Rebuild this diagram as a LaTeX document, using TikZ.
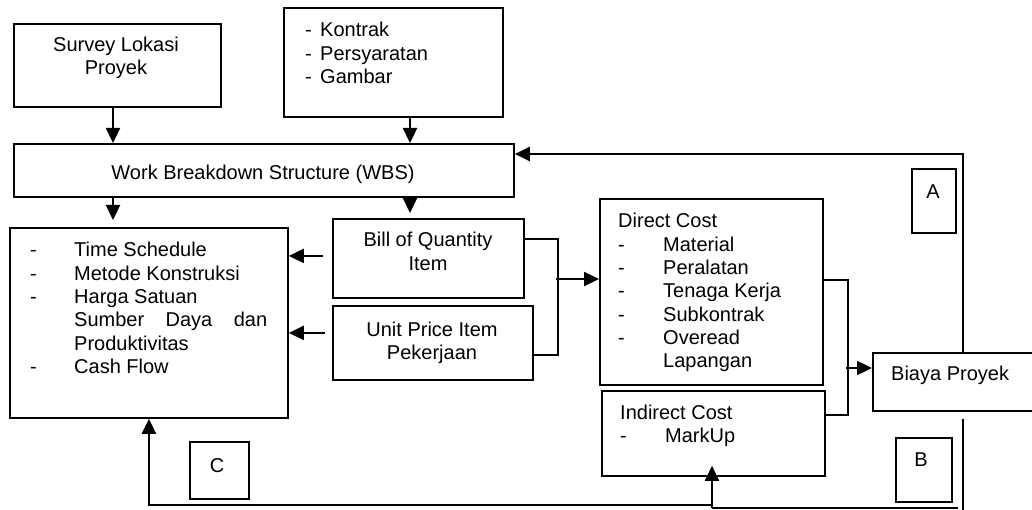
\documentclass[tikz,border=0pt]{standalone}
\usepackage{fontspec}
\setmainfont{Liberation Sans}
\usetikzlibrary{arrows.meta}
\begin{document}
\begin{tikzpicture}[x=1pt,y=-1pt,
  box/.style={draw,line width=1.8pt,inner sep=0pt,anchor=north west},
  txt/.style={anchor=base west,inner sep=0pt,font=\fontsize{20}{23.3}\selectfont},
  ctxt/.style={anchor=base,inner sep=0pt,font=\fontsize{20}{23.3}\selectfont},
  conn/.style={line width=2.3pt},
  arr/.style={line width=2.3pt,-{Triangle[length=15pt,width=14pt]}}]
\useasboundingbox (0,0) rectangle (1032,510);

% boxes
\node[box,minimum width=207pt,minimum height=83pt] (survey) at (13,23) {};
\node[box,minimum width=219pt,minimum height=109pt] (kontrak) at (283,7) {};
\node[box,minimum width=500pt,minimum height=53pt] (wbs) at (13,143) {};
\node[box,minimum width=278pt,minimum height=190pt] (ts) at (9,227) {};
\node[box,minimum width=191pt,minimum height=79pt] (boq) at (332,218) {};
\node[box,minimum width=200pt,minimum height=74pt] (up) at (332,305) {};
\node[box,minimum width=223pt,minimum height=186pt] (dc) at (599,198) {};
\node[box,minimum width=223pt,minimum height=85pt] (ic) at (601,390) {};
\node[box,minimum width=200pt,minimum height=58pt] (biaya) at (872,352) {};
\node[box,minimum width=44pt,minimum height=64pt] (boxA) at (911,168) {};
\node[box,minimum width=56pt,minimum height=64pt] (boxB) at (895,437) {};
\node[box,minimum width=59pt,minimum height=57pt] (boxC) at (189,441) {};

% texts
\node[ctxt] (t-sv1) at (116,52) {Survey Lokasi};
\node[ctxt] (t-sv2) at (116,75) {Proyek};

\node[txt] (t-k1d) at (305,37) {-};
\node[txt] (t-k1) at (320,37) {Kontrak};
\node[txt] (t-k2d) at (305,61) {-};
\node[txt] (t-k2) at (320,61) {Persyaratan};
\node[txt] (t-k3d) at (305,84) {-};
\node[txt] (t-k3) at (320,84) {Gambar};

\node[ctxt] (t-wbs) at (263,180) {Work Breakdown Structure (WBS)};

\node[txt] (t-ts1d) at (30,257) {-};
\node[txt] (t-ts1) at (74,257) {Time Schedule};
\node[txt] (t-ts2d) at (30,280.3) {-};
\node[txt] (t-ts2) at (74,280.3) {Metode Konstruksi};
\node[txt] (t-ts3d) at (30,303.6) {-};
\node[txt] (t-ts3) at (74,303.6) {Harga Satuan};
\node[txt] (t-ts4) at (74,326.9) {\makebox[193pt][s]{Sumber Daya dan}};
\node[txt] (t-ts5) at (74,350.2) {Produktivitas};
\node[txt] (t-ts6d) at (30,373.5) {-};
\node[txt] (t-ts6) at (74,373.5) {Cash Flow};

\node[ctxt] (t-boq1) at (428,247) {Bill of Quantity};
\node[ctxt] (t-boq2) at (428,270.3) {Item};
\node[ctxt] (t-up1) at (432,336) {Unit Price Item};
\node[ctxt] (t-up2) at (432,359.3) {Pekerjaan};

\node[txt] (t-dc0) at (618,228) {Direct Cost};
\node[txt] (t-dc1d) at (618,251.3) {-};
\node[txt] (t-dc1) at (663,251.3) {Material};
\node[txt] (t-dc2d) at (618,274.6) {-};
\node[txt] (t-dc2) at (663,274.6) {Peralatan};
\node[txt] (t-dc3d) at (618,297.9) {-};
\node[txt] (t-dc3) at (663,297.9) {Tenaga Kerja};
\node[txt] (t-dc4d) at (618,321.2) {-};
\node[txt] (t-dc4) at (663,321.2) {Subkontrak};
\node[txt] (t-dc5d) at (618,344.5) {-};
\node[txt] (t-dc5) at (663,344.5) {Overead};
\node[txt] (t-dc6) at (663,367.8) {Lapangan};

\node[txt] (t-ic0) at (620,419) {Indirect Cost};
\node[txt] (t-ic1d) at (620,442.3) {-};
\node[txt] (t-ic1) at (665,442.3) {MarkUp};

\node[txt] (t-bi) at (891,380) {Biaya Proyek};
\node[ctxt] (t-A) at (933,199) {A};
\node[ctxt] (t-B) at (921,466) {B};
\node[ctxt] (t-C) at (217,472) {C};

% connectors
\coordinate (xl) at (113,0);
\coordinate (xr) at (410,0);
\draw[arr] (survey.south -| xl) -- (wbs.north -| xl);
\draw[arr] (kontrak.south -| xr) -- (wbs.north -| xr);
\draw[arr] (wbs.south -| xl) -- ([yshift=7pt]ts.north -| xl);
\draw[arr] (wbs.south -| xr) -- ([yshift=5pt]boq.north -| xr);
\draw[arr] ([xshift=-9pt,yshift=2.5pt]boq.west) -- ([yshift=2.5pt]boq.west -| ts.east);
\draw[arr] ([xshift=-7pt,yshift=10pt]up.west) -- ([yshift=10pt]up.west -| ts.east);

\draw[conn] ([yshift=19.5pt]boq.east) -- ++(33,0) |- ([yshift=-12pt]up.east);
\coordinate (j1) at (556,279);
\draw[arr] (j1) -- (j1 -| dc.west);

\draw[conn] ([yshift=12pt]dc.east) -- ++(24,0) |- ([yshift=18.5pt]ic.east);
\coordinate (j2) at (846,368);
\draw[arr] (j2) -- (j2 -| biaya.west);

% feedback loops
\coordinate (xa) at (963,0);
\coordinate (ya) at (0,154);
\draw[arr] (biaya.north -| xa) |- (ya -| wbs.east);
\coordinate (jb) at (963,510);
\draw[conn] ([yshift=-7pt]biaya.south -| xa) -- (jb);
\coordinate (jc) at (958,508);
\coordinate (jd) at (712,508);
\draw[conn] (jc) -- (jd);
\draw[arr] (jd) -- ([yshift=11pt]ic.south -| jd);
\coordinate (je) at (712,505);
\draw[arr] (je) -| (ts.south);
\end{tikzpicture}
\end{document}
